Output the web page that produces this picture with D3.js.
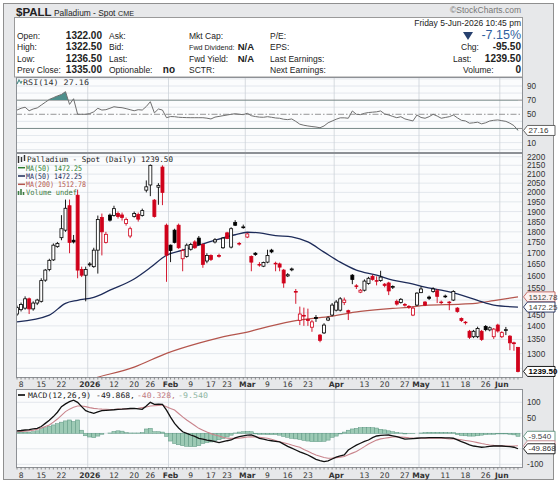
<!DOCTYPE html>
<html><head><meta charset="utf-8">
<script src="https://cdn.jsdelivr.net/npm/d3@7"></script>
<style>body{margin:0;background:#fff}svg{display:block}</style>
</head><body><svg id="c" width="560" height="483"></svg>
<script>
// ---------- DATA ----------
const dates = [
"2025-12-05","2025-12-08","2025-12-09","2025-12-10","2025-12-11","2025-12-12","2025-12-15","2025-12-16","2025-12-17","2025-12-18","2025-12-19",
"2025-12-22","2025-12-23","2025-12-24","2025-12-26","2025-12-29","2025-12-30","2025-12-31",
"2026-01-02","2026-01-05","2026-01-06","2026-01-07","2026-01-08","2026-01-09","2026-01-12","2026-01-13","2026-01-14","2026-01-15","2026-01-16",
"2026-01-20","2026-01-21","2026-01-22","2026-01-23","2026-01-26","2026-01-27","2026-01-28","2026-01-29","2026-01-30",
"2026-02-02","2026-02-03","2026-02-04","2026-02-05","2026-02-06","2026-02-09","2026-02-10","2026-02-11","2026-02-12","2026-02-13",
"2026-02-17","2026-02-18","2026-02-19","2026-02-20","2026-02-23","2026-02-24","2026-02-25","2026-02-26","2026-02-27",
"2026-03-02","2026-03-03","2026-03-04","2026-03-05","2026-03-06","2026-03-09","2026-03-10","2026-03-11","2026-03-12","2026-03-13",
"2026-03-16","2026-03-17","2026-03-18","2026-03-19","2026-03-20","2026-03-23","2026-03-24","2026-03-25","2026-03-26","2026-03-27",
"2026-03-30","2026-03-31","2026-04-01","2026-04-02","2026-04-06","2026-04-07","2026-04-08","2026-04-09","2026-04-10",
"2026-04-13","2026-04-14","2026-04-15","2026-04-16","2026-04-17","2026-04-20","2026-04-21","2026-04-22","2026-04-23","2026-04-24",
"2026-04-27","2026-04-28","2026-04-29","2026-04-30","2026-05-01","2026-05-04","2026-05-05","2026-05-06","2026-05-07","2026-05-08",
"2026-05-11","2026-05-12","2026-05-13","2026-05-14","2026-05-15","2026-05-18","2026-05-19","2026-05-20","2026-05-21","2026-05-22",
"2026-05-26","2026-05-27","2026-05-28","2026-05-29","2026-06-01","2026-06-02","2026-06-03","2026-06-04","2026-06-05"];

const opens = [1445,1462,1468,1505,1465,1488,1495,1582,1628,1670,1730,1772,1808,1930,1760,1985,1628,1603,1648,1640,1714,1870,1750,1882,1880,
1890,1883,1840,1780,1875,1885,1880,2012,2040,1959,2028,2140,1832,1737,1808,1832,1675,1685,1718,1752,1770,1740,1665,1690,1752,1690,1725,1795,1728,1845,
1745,1820,1775,1685,1700,1650,1642,1660,1714,1655,1652,1625,1600,1626,1535,1421,1440,1424,1395,1432,1366,1374,1422,1441,1460,1460,1490,1458,1603,1558,
1532,1540,1568,1598,1580,1580,1565,1570,1552,1495,1490,1482,1475,1441,1480,1530,1492,1512,1535,1538,1492,1513,1492,1500,1468,1428,1414,1380,1360,1360,
1380,1398,1385,1360,1403,1360,1383,1362,1338,1322];
const highs = [1478,1490,1515,1510,1495,1505,1590,1630,1675,1745,1752,1882,1962,1962,1785,2015,1640,1640,1660,1725,1880,1890,1800,1890,1930,
1900,1895,1870,1825,1900,1895,1915,2065,2155,1965,2050,2150,1840,1740,1815,1840,1720,1745,1748,1760,1780,1745,1700,1695,1770,1698,1775,1800,1822,1857,
1752,1835,1795,1690,1705,1660,1662,1716,1720,1662,1658,1630,1612,1636,1545,1474,1470,1466,1422,1441,1370,1410,1436,1488,1500,1512,1510,1462,1608,1565,
1545,1585,1596,1605,1598,1622,1570,1575,1560,1502,1508,1488,1480,1474,1532,1556,1496,1518,1552,1545,1498,1522,1496,1540,1472,1432,1418,1385,1385,1397,
1385,1403,1398,1392,1408,1380,1396,1366,1342,1322.5];
const lows = [1438,1455,1462,1445,1458,1480,1490,1575,1620,1665,1725,1760,1800,1700,1745,1590,1595,1495,1640,1635,1610,1690,1745,1850,1875,
1865,1855,1830,1770,1870,1850,1875,2000,1980,1870,1935,1933,1575,1660,1745,1720,1620,1680,1712,1720,1735,1635,1655,1665,1745,1680,1720,1765,1722,1828,
1735,1815,1770,1620,1688,1640,1638,1655,1700,1620,1620,1550,1595,1620,1485,1403,1400,1400,1378,1415,1340,1370,1418,1436,1455,1455,1480,1422,1565,1545,
1528,1535,1563,1580,1560,1575,1552,1520,1545,1478,1486,1474,1465,1437,1476,1528,1476,1500,1530,1488,1484,1508,1460,1496,1450,1415,1405,1352,1355,1355,
1345,1380,1380,1352,1375,1355,1366,1312,1310,1236.5];
const closes = [1470,1482,1505,1465,1488,1500,1580,1625,1668,1737,1745,1815,1917,1750,1752,1625,1603,1628,1652,1714,1860,1800,1788,1857,1915,
1875,1870,1860,1815,1890,1862,1905,2030,2150,1875,2038,2000,1691,1712,1750,1725,1712,1737,1740,1725,1740,1650,1690,1672,1762,1686,1770,1768,1815,1832,
1742,1824,1790,1660,1694,1647,1658,1690,1706,1652,1638,1570,1605,1630,1532,1445,1437,1420,1415,1428,1347,1403,1430,1480,1492,1505,1500,1452,1585,1555,
1540,1578,1590,1585,1578,1595,1560,1537,1555,1484,1503,1480,1472,1468,1528,1545,1480,1507,1545,1515,1490,1516,1489,1535,1455,1420,1412,1358,1380,1390,
1350,1386,1393,1388,1381,1375,1386,1338,1335,1239.5];

// moving averages at sample candles
const ma50Idx = [0,8,12,15,19,23,29,33,37,41,45,49,54,57,60,64,68,72,76,80,84,89,93,97,101,105,110,114,118,124];
const ma50Val = [1415,1441,1487,1499,1511,1540,1587,1636,1691,1714,1737,1760,1786,1798,1795,1782,1776,1752,1705,1660,1625,1603,1582,1569,1553,1540,1520,1499,1480,1472.25];
const ma200Idx = [10,19,29,37,45,53,57,60,68,77,85,93,97,101,110,114,118,124];
const ma200Val = [1180,1217,1254,1301,1337,1366,1377,1389,1417,1435,1455,1467,1471,1479,1484,1488,1498,1512.78];

const rsi = [56,58.5,60,55,57.5,59,63,67,71,73.5,76,78,82,64,72,50,50,50,51,53.5,58.5,56,56.5,58.5,60.7,59.8,59.3,58,56.5,55,
56.5,56,61,67.8,52,57.5,56,45.2,46.8,46.6,45.8,45.5,45.3,45.2,45.2,45.2,45.2,44.5,43.4,46,47,48,49,50,50.8,50,49.5,51.4,48,46.8,
46,45.8,46.6,45.8,44.8,44.4,43,42.5,43.4,40,36,34.5,33.5,32.7,32,31,33.5,38,40.5,43,45,45,44.4,54.7,50,49.5,51.4,52.5,53,53.5,
54.7,50.5,49,47,45.2,46.6,43.5,42,40.6,49,45.5,44.4,46.6,50,47.5,44.4,45.5,46.6,49,45,41.5,40.6,37.4,38,38.8,36.5,38,40.5,41.5,42,
41,40,37.4,34,27.16];

const macd = [8,9,10.6,12,14,16,22,32,42,54,68,86,95,102,107,100,86,73,68,64.5,69,73,74,75,76,77.4,78,79,80,80.6,79,77.4,88,100,93.5,94,93.5,75,52,32,
17,5,0,-5.5,-10,-16,-19,-22,-24,-27,-30,-27,-24,-21.6,-15,-11,-8,-6,-5.5,-10,-16,-19,-22,-24,-26,-28,-35,-42,-48,-54,-60,-65,-70,-77,-84,-88,-91.6,-89,-83,-77,
-73,-70,-54,-46,-38,-32,-26,-21.6,-14,-8.7,-7,-6,-5.5,-8,-11,-15,-19,-18,-17,-16,-15,-15,-14,-14,-14,-14,-15,-15,-16,-21,-27,-32,-37,-41,-43,-45,-44,-42,-41,-41,
-41,-42,-43,-45,-49.868];
const signal = [5,6,7,8.5,10,13,17,22,27,36,46,58,70,78,84,88,88,86,83,80.6,79,78,77.5,77,77,78,78.5,79,79.5,80,81,83,85,88,89,90,91,86,80,75,
64,53,43,34,25,16,10,4,-1,-5.5,-9,-13,-16,-16.5,-16.5,-16,-14,-12,-11,-12,-13,-14.5,-16,-19,-23,-27,-30.5,-34,-38,-41.5,-45,-52,-58,-64.5,-70,-74,-78,-80.6,-80,-78.5,
-77,-75,-69,-64,-59,-51,-43,-34.5,-28,-22,-18,-16,-14,-12,-11,-12,-13,-14.5,-15.5,-16,-16,-16,-16,-16,-16,-16,-17,-18,-18.5,-19,-21,-23,-25,-27,-30,-33,-35.5,-37.7,-39,-40,
-40.5,-41,-41,-40.8,-40.328];
const hist = [3,3,4,4,5,8,15,18,23,27,31,36,40,43,38,43,10,-8,-12,-14,-9,-3,0,1,6,8,7,2,1,1,1,2,14,16,5,5,4,-10,-25,-33,
-37,-40,-42,-43,-43,-40,-33,-30,-28,-24,-21,-17,-12,-6,1,4,5,6,5,-2,-3,-3,-4,-4,-4,-6,-10,-13,-16,-18,-20,-23,-25,-27,-27,-27,-26,-22,-13,-9,
-2,4,10,14,16,18,19,19,18,17,13,11,8,5,3,1,-2,-1,-1,0,1,2,3,3,3,3,3,2,2,-4,-7,-8,-9,-9,-8,-6,-4,-3,-3,-2,
-2,-2,-3,-5,-9.54];

const priceTicks = [1300,1350,1400,1450,1550,1600,1650,1700,1750,1800,1850,1900,1950,2000,2050,2100,2150,2200];
const priceGrid = [1250,1300,1350,1400,1450,1500,1550,1600,1650,1700,1750,1800,1850,1900,1950,2000,2050,2100,2150,2200];
const rsiTicks = [90,70,50,10];
const macdTicks = [100,50,-100];
const macdGrid = [100,50,0,-50,-100];
const xTickIdx = [1,6,11,18,24,29,33,38,43,48,52,57,62,67,72,79,86,91,96,100,106,111,116,120];
const xTickLab = ["8","15","22","2026","12","20","26","Feb","9","17","23","Mar","9","16","23","Apr","13","20","27","May","11","18","26","Jun"];
const monthIdx = [18,38,57,79,100,120];

// ---------- LAYOUT ----------
const svg = d3.select('#c');
const PL = 16, PR = 523;
const rsiT = 77, rsiB = 153, mainT = 153, mainB = 378, macT = 389, macB = 468;
const SANS = "'Liberation Sans', Arial, sans-serif";
const MONO = "'DejaVu Sans Mono', monospace";
const VER = "'DejaVu Sans', Verdana, sans-serif";
const RED = '#d0021b';

const x = d3.scaleBand().domain(dates).range([15, 520]).paddingInner(0);
const bw = x.bandwidth();
const cx = i => x(dates[i]) + bw / 2;
const y = d3.scaleLog().domain([1218, 2222]).range([mainB, mainT]);
const yR = d3.scaleLinear().domain([-4.7, 102.7]).range([rsiB, rsiT]);
const yM = d3.scaleLinear().domain([-112, 143]).range([macB, macT]);

svg.append('rect').attr('width', 560).attr('height', 483).attr('fill', '#fff');
svg.append('rect').attr('x', 3.5).attr('y', 3.5).attr('width', 550).attr('height', 476)
  .attr('fill', '#e7e8ea').attr('stroke', '#8f8f8f');

const defs = svg.append('defs');
function clip(id, x0, y0, x1, y1) {
  defs.append('clipPath').attr('id', id).append('rect').attr('x', x0).attr('y', y0).attr('width', x1 - x0).attr('height', y1 - y0);
}
clip('cMain', PL, mainT, PR, mainB);
clip('cRsi', PL, rsiT, PR, rsiB);
clip('cMac', PL, macT, PR, macB);
clip('cRsiHi', PL, rsiT, PR, yR(70));
clip('cRsiLo', PL, yR(30), PR, rsiB);

// ---------- HEADER ----------
svg.append('text').attr('x', 16).attr('y', 16).attr('font-family', SANS).attr('font-weight', 'bold')
  .attr('font-size', 11.5).attr('fill', '#222').text('$PALL');
svg.append('text').attr('x', 54).attr('y', 16).attr('font-family', SANS).attr('font-size', 8.4).attr('fill', '#222').text('Palladium - Spot');
svg.append('text').attr('x', 118).attr('y', 16).attr('font-family', SANS).attr('font-size', 7.2).attr('fill', '#222').text('CME');
svg.append('text').attr('x', 521).attr('y', 13).attr('text-anchor', 'end').attr('font-family', SANS)
  .attr('font-size', 8.5).attr('fill', '#777').text('\u00A9StockCharts.com');

svg.append('rect').attr('x', 14.5).attr('y', 17.5).attr('width', 508).attr('height', 59.5)
  .attr('fill', '#fff').attr('stroke', '#9a9a9a');

const hdr = svg.append('g').attr('font-family', SANS).attr('font-size', 8.5).attr('fill', '#222');
const rowY = [38.5, 50, 61.5, 73];
function ht(xp, yp, t, opt = {}) {
  const e = hdr.append('text').attr('x', xp).attr('y', yp).text(t);
  if (opt.b) e.attr('font-weight', 'bold').attr('font-size', 10);
  if (opt.end) e.attr('text-anchor', 'end');
  if (opt.size) e.attr('font-size', opt.size);
  if (opt.fill) e.attr('fill', opt.fill);
  return e;
}
const lab1 = ['Open:', 'High:', 'Low:', 'Prev Close:'];
const val1 = ['1322.00', '1322.50', '1236.50', '1335.00'];
const lab2 = ['Ask:', 'Bid:', 'Last:', 'Optionable:'];
const lab3 = ['Mkt Cap:', 'Fwd Dividend:', 'Fwd Yield:', 'SCTR:'];
const lab4 = ['P/E:', 'EPS:', 'Last Earnings:', 'Next Earnings:'];
rowY.forEach((yy, k) => {
  ht(17, yy, lab1[k]);
  ht(102, yy, val1[k], { b: 1, end: 1 });
  ht(109, yy, lab2[k]);
  ht(189, yy, lab3[k], k === 1 ? { size: 7.2 } : {});
  ht(270, yy, lab4[k]);
});
ht(175, rowY[3], 'no', { b: 1, end: 1 });
ht(254, rowY[1], 'N/A', { b: 1, end: 1, size: 9.5 });
ht(254, rowY[2], 'N/A', { b: 1, end: 1, size: 9.5 });
ht(521, 26, 'Friday  5-Jun-2026  10:45 pm', { end: 1 });
ht(521, rowY[0], '-7.15%', { end: 1, size: 12.5, fill: '#2f5fa0' });
hdr.append('path').attr('d', 'M463,32 L473,32 L468,40 Z').attr('fill', '#27406e');
ht(461, rowY[1], 'Chg:');
ht(521, rowY[1], '-95.50', { b: 1, end: 1 });
ht(453, rowY[2], 'Last:');
ht(521, rowY[2], '1239.50', { b: 1, end: 1 });
ht(463, rowY[3], 'Volume:');
ht(521, rowY[3], '0', { b: 1, end: 1 });

// ---------- PANEL BACKGROUNDS ----------
[[rsiT, rsiB], [mainT, mainB], [macT, macB]].forEach(([t, b]) => {
  svg.append('rect').attr('x', PL).attr('y', t).attr('width', PR - PL).attr('height', b - t).attr('fill', '#fbfcfd');
});

// grid
const grid = svg.append('g').attr('stroke', '#dde2e8').attr('stroke-width', 0.8);
priceGrid.forEach(p => grid.append('line').attr('x1', PL).attr('x2', PR).attr('y1', y(p)).attr('y2', y(p)));
[0, 10, 20, 40, 60, 80, 90, 100].forEach(v => grid.append('line').attr('x1', PL).attr('x2', PR).attr('y1', yR(v)).attr('y2', yR(v)));
macdGrid.forEach(v => grid.append('line').attr('x1', PL).attr('x2', PR).attr('y1', yM(v)).attr('y2', yM(v)));
monthIdx.forEach(i => {
  [[rsiT, rsiB], [mainT, mainB], [macT, macB]].forEach(([t, b]) => {
    grid.append('line').attr('x1', cx(i) - bw / 2).attr('x2', cx(i) - bw / 2).attr('y1', t).attr('y2', b).attr('stroke', '#cdd2d8');
  });
});

// ---------- RSI ----------
const rg = svg.append('g');
rg.append('line').attr('x1', PL).attr('x2', PR).attr('y1', yR(70)).attr('y2', yR(70)).attr('stroke', '#8a8a8a').attr('stroke-width', 1);
rg.append('line').attr('x1', PL).attr('x2', PR).attr('y1', yR(30)).attr('y2', yR(30)).attr('stroke', '#8a8a8a').attr('stroke-width', 1);
rg.append('line').attr('x1', PL).attr('x2', PR).attr('y1', yR(50)).attr('y2', yR(50)).attr('stroke', '#8a8a8a')
  .attr('stroke-width', 0.9).attr('stroke-dasharray', '6,2,1.5,2');
rg.append('path').datum(rsi).attr('clip-path', 'url(#cRsiHi)').attr('fill', '#4e8f8c')
  .attr('d', d3.area().x((d, i) => cx(i)).y1(d => yR(d)).y0(yR(70)));
rg.append('path').datum(rsi).attr('clip-path', 'url(#cRsiLo)').attr('fill', '#4e8f8c')
  .attr('d', d3.area().x((d, i) => cx(i)).y1(d => yR(d)).y0(yR(30)));
rg.append('path').datum(rsi).attr('clip-path', 'url(#cRsi)').attr('fill', 'none').attr('stroke', '#6f6f6f').attr('stroke-width', 1)
  .attr('d', d3.line().x((d, i) => cx(i)).y(d => yR(d)));

// ---------- MAIN ----------
const mg = svg.append('g').attr('clip-path', 'url(#cMain)');
const maLine = d3.line().curve(d3.curveMonotoneX);
mg.append('path').attr('fill', 'none').attr('stroke', '#b4554d').attr('stroke-width', 1.2)
  .attr('d', maLine(ma200Idx.map((i, k) => [cx(i), y(ma200Val[k])])));
mg.append('path').attr('fill', 'none').attr('stroke', '#1d2b59').attr('stroke-width', 1.3)
  .attr('d', maLine(ma50Idx.map((i, k) => [cx(i), y(ma50Val[k])])));

const candles = dates.map((d, i) => ({ i, o: opens[i], h: highs[i], l: lows[i], c: closes[i], pc: i > 0 ? closes[i - 1] : opens[i] }));
const cg = mg.selectAll('g.cd').data(candles).join('g');
cg.each(function (d) {
  const g = d3.select(this);
  const col = d.c < d.pc ? RED : '#000';
  const X = cx(d.i);
  g.append('line').attr('x1', X).attr('x2', X).attr('y1', y(d.h)).attr('y2', y(d.l)).attr('stroke', col).attr('stroke-width', 0.9);
  const top = y(Math.max(d.o, d.c)), bot = y(Math.min(d.o, d.c));
  g.append('rect').attr('x', X - 1.5).attr('width', 3).attr('y', top).attr('height', Math.max(bot - top, 0.6))
    .attr('fill', d.c >= d.o ? '#fff' : col).attr('stroke', col).attr('stroke-width', 0.8);
});

// ---------- MACD ----------
const hg = svg.append('g').attr('clip-path', 'url(#cMac)');
hg.selectAll('rect').data(hist).join('rect')
  .attr('x', (d, i) => cx(i) - bw / 2).attr('width', bw)
  .attr('y', d => Math.min(yM(d), yM(0))).attr('height', d => Math.abs(yM(d) - yM(0)))
  .attr('fill', '#9dcab5').attr('stroke', '#5a9580').attr('stroke-width', 0.5);
hg.append('path').datum(signal).attr('fill', 'none').attr('stroke', '#c9848c').attr('stroke-width', 1.1)
  .attr('d', d3.line().x((d, i) => cx(i)).y(d => yM(d)));
hg.append('path').datum(macd).attr('fill', 'none').attr('stroke', '#111').attr('stroke-width', 1.3)
  .attr('d', d3.line().x((d, i) => cx(i)).y(d => yM(d)));

// ---------- PANEL BORDERS ----------
[[rsiT, rsiB], [mainT, mainB], [macT, macB]].forEach(([t, b]) => {
  svg.append('rect').attr('x', PL + 0.5).attr('y', t + 0.5).attr('width', PR - PL - 1).attr('height', b - t - 1)
    .attr('fill', 'none').attr('stroke', '#8d9095');
});

// daily tick marks along x axes
[mainB, macB].forEach(b => {
  svg.append('g').selectAll('line').data(dates).join('line')
    .attr('x1', (d, i) => cx(i)).attr('x2', (d, i) => cx(i)).attr('y1', b - 0.5).attr('y2', b + 1.5)
    .attr('stroke', '#777').attr('stroke-width', 0.8);
});

// x labels
[mainB + 9, macB + 9.5].forEach(yy => {
  svg.append('g').selectAll('text').data(xTickIdx).join('text')
    .attr('x', i => cx(i)).attr('y', yy).attr('text-anchor', 'middle')
    .attr('font-family', VER).attr('font-size', 7.6).attr('fill', '#333')
    .attr('font-weight', (d, k) => /[A-Za-z]|2026/.test(xTickLab[k]) ? 'bold' : 'normal')
    .text((d, k) => xTickLab[k]);
});

// right axis labels
const ax = svg.append('g').attr('font-family', SANS).attr('font-size', 8.2).attr('fill', '#333');
priceTicks.forEach(p => ax.append('text').attr('x', 527).attr('y', y(p) + (p === 1450 ? 5.5 : 3)).text(p));
rsiTicks.forEach(v => ax.append('text').attr('x', 527).attr('y', yR(v) + 3).text(v));
macdTicks.forEach(v => ax.append('text').attr('x', 527).attr('y', yM(v) + 3).text(v));

function tag(yy, t, stroke, color, bold, fill = '#fff') {
  const g = svg.append('g');
  g.append('path').attr('d', `M${523.5},${yy} L${527.5},${yy - 5} L${555},${yy - 5} L${555},${yy + 5} L${527.5},${yy + 5} Z`)
    .attr('fill', fill).attr('stroke', stroke).attr('stroke-width', 0.9);
  if (t) g.append('text').attr('x', 528.5).attr('y', yy + 2.7).attr('font-family', SANS).attr('font-size', 8)
    .attr('font-weight', bold ? 'bold' : 'normal').attr('fill', color).text(t);
}
tag(y(1512.78), '1512.78', '#c0605a', '#444', false, '#fdf2f1');
tag(y(1472.25), '1472.25', '#1d2b59', '#444', false);
tag(y(1239.5), '1239.50', '#000', '#000', true);
tag(yR(27.16), '27.16', '#555', '#333', false);
tag(yM(-9.54), '-9.540', '#5a8f7a', '#444', false);
tag(yM(-40.328), '', '#c9848c', '#444', false);
tag(yM(-49.868), '-49.868', '#111', '#333', false);

// ---------- LEGENDS ----------
const lg = svg.append('g').attr('font-family', MONO).attr('font-size', 7.6);
function lt(xp, yp, t, c, len) {
  return lg.append('text').attr('x', xp).attr('y', yp).attr('fill', c).attr('textLength', len)
    .attr('lengthAdjust', 'spacingAndGlyphs').text(t);
}
// RSI
lg.append('path').attr('d', 'M17,84 L19,80 L21,83 L22,81').attr('fill', 'none').attr('stroke', '#4e8f8c').attr('stroke-width', 1.2);
lt(23, 84.5, 'RSI(14) 27.16', '#333', 66);
// main
lg.append('path').attr('d', 'M18.5,156 V163 M21.5,157 V162 M24.5,155 V161').attr('stroke', '#333').attr('stroke-width', 1.4);
lt(27, 162, 'Palladium - Spot (Daily) 1239.50', '#222', 146);
const lrows = [['MA(50) 1472.25', '#2e7d32', 170.5, 56], ['MA(50) 1472.25', '#1d2b59', 178.8, 56], ['MA(200) 1512.78', '#b4554d', 187.1, 60]];
lrows.forEach(([t, c, yy, len]) => {
  lg.append('line').attr('x1', 18).attr('x2', 25).attr('y1', yy - 2.8).attr('y2', yy - 2.8).attr('stroke', c).attr('stroke-width', 1.5);
  lt(26, yy, t, c, len);
});
lg.append('path').attr('d', 'M18.5,195 V191 M21,195 V189 M23.5,195 V192').attr('stroke', '#3f7d45').attr('stroke-width', 1.6);
lt(26, 195.4, 'Volume undef', '#3f7d45', 51);
// MACD
lg.append('line').attr('x1', 18).attr('x2', 25).attr('y1', 395).attr('y2', 395).attr('stroke', '#000').attr('stroke-width', 1.6);
lt(28, 397.8, 'MACD(12,26,9) -49.868,', '#222', 107);
lt(137, 397.8, '-40.328,', '#c07a82', 39);
lt(178, 397.8, '-9.540', '#8fb5a3', 30);
</script></body></html>
